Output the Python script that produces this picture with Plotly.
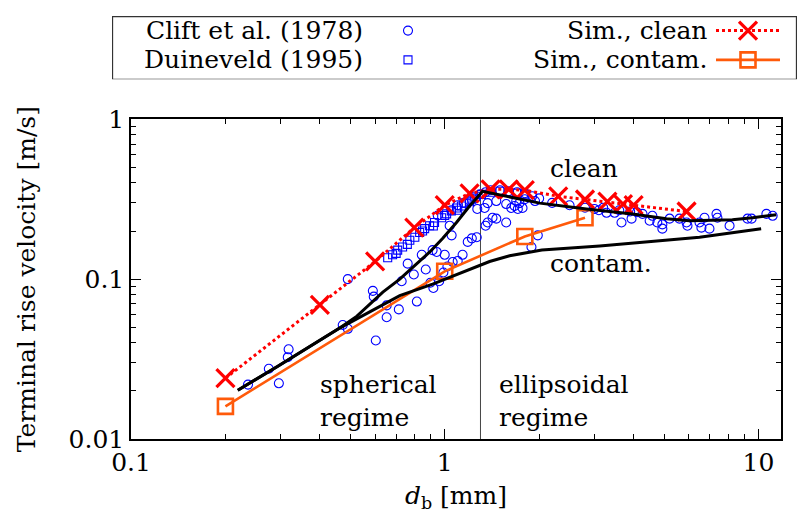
import math
import plotly.graph_objects as go

# ---------------- data ----------------
clift_d = [0.236, 0.275, 0.296, 0.318, 0.316, 0.473, 0.491, 0.491, 0.590, 0.594,
           0.603, 0.653, 0.653, 0.714, 0.729, 0.762, 0.797, 0.815, 0.845, 0.87,
           0.90, 0.915, 0.92, 0.943, 0.96, 0.99, 1.0, 1.02, 1.037, 1.052,
           1.06, 1.1, 1.14, 1.184, 1.22, 1.265, 1.27, 1.34, 1.35, 1.37,
           1.37, 1.42, 1.46, 1.46, 1.57, 1.57, 1.63, 1.67, 1.69, 1.71,
           1.73, 1.77, 1.80, 1.89, 1.94, 1.98, 0.95, 1.05, 1.1, 1.15,
           1.2, 1.25, 1.3, 1.35, 1.4, 1.5, 1.6, 1.7, 1.8, 1.9,
           2.0, 2.2, 2.5, 2.8, 3.0, 3.1, 3.2, 3.6, 3.9, 4.1,
           3.28, 3.48, 3.66, 3.94, 4.27, 4.50, 4.59, 4.76, 4.94, 4.94,
           5.21, 5.60, 5.90, 5.94, 6.49, 6.58, 6.73, 6.98, 7.35, 7.40,
           8.09, 9.23, 9.51, 10.6, 11.1]
clift_u = [0.0219, 0.0275, 0.0223, 0.0364, 0.0325, 0.0517, 0.0489, 0.100, 0.0845, 0.0777,
           0.0413, 0.0685, 0.0578, 0.0647, 0.097, 0.125, 0.107, 0.0724, 0.142, 0.115,
           0.095, 0.152, 0.088, 0.148, 0.097, 0.11, 0.142, 0.12, 0.216, 0.188,
           0.128, 0.13, 0.142, 0.171, 0.180, 0.183, 0.275, 0.279, 0.216, 0.226,
           0.299, 0.242, 0.239, 0.308, 0.226, 0.295, 0.279, 0.287, 0.308, 0.275,
           0.299, 0.279, 0.316, 0.159, 0.308, 0.188, 0.25, 0.27, 0.29, 0.30,
           0.31, 0.32, 0.34, 0.35, 0.36, 0.36, 0.355, 0.35, 0.345, 0.33,
           0.32, 0.30, 0.29, 0.28, 0.275, 0.27, 0.28, 0.27, 0.265, 0.262,
           0.260, 0.260, 0.226, 0.239, 0.256, 0.232, 0.249, 0.226, 0.220, 0.207,
           0.239, 0.239, 0.226, 0.216, 0.226, 0.210, 0.242, 0.207, 0.256, 0.242,
           0.216, 0.239, 0.239, 0.256, 0.249]

duin_d = [0.658, 0.682, 0.708, 0.734, 0.774, 0.803, 0.832, 0.863, 0.895, 0.928,
          0.978, 1.014, 1.05, 1.09, 1.13, 1.17, 1.22, 1.26, 1.31,
          0.70, 0.76, 0.85, 0.92, 1.0, 1.1, 1.2, 1.4, 1.5, 1.6, 1.7, 1.8]
duin_u = [0.136, 0.142, 0.152, 0.159, 0.175, 0.183, 0.196, 0.207, 0.216, 0.226,
          0.242, 0.256, 0.267, 0.279, 0.287, 0.299, 0.316, 0.330, 0.339,
          0.145, 0.165, 0.20, 0.215, 0.25, 0.27, 0.305, 0.35, 0.355, 0.35, 0.345, 0.34]

sim_clean_d = [0.2, 0.4, 0.6, 0.8, 1.0, 1.2, 1.4, 1.6, 1.8, 2.3, 2.8, 3.3, 3.7, 4.0, 5.9]
sim_clean_u = [0.024, 0.069, 0.129, 0.21, 0.29, 0.344, 0.365, 0.365, 0.36, 0.33,
               0.315, 0.305, 0.295, 0.29, 0.265]

sim_contam_d = [0.2, 1.0, 1.8, 2.8]
sim_contam_u = [0.016, 0.112, 0.185, 0.242]

corr_clean_d = [0.219, 0.292, 0.464, 0.525, 0.635, 0.719, 0.815, 0.896, 0.986, 1.09,
                1.2, 1.32, 2.01, 2.83, 3.97, 5.09, 6.03, 8.26, 9.57, 11.4]
corr_clean_u = [0.0202, 0.0283, 0.0496, 0.0587, 0.0830, 0.100, 0.125, 0.148, 0.18, 0.226,
                0.287, 0.354, 0.299, 0.275, 0.256, 0.239, 0.232, 0.235, 0.242, 0.253]

corr_contam_d = [0.219, 0.292, 0.464, 0.719, 0.915, 1.14, 1.39, 1.61, 2.04, 3.12, 6.49, 10.2]
corr_contam_u = [0.0202, 0.0283, 0.0496, 0.0788, 0.093, 0.110, 0.129, 0.14, 0.152, 0.161,
                 0.183, 0.207]

regime_boundary = 1.3

x_ticks = [0.1, 1, 10]
x_ticklabels = ["0.1", "1", "10"]
y_ticks = [0.01, 0.1, 1]
y_ticklabels = ["0.01", "0.1", "1"]

legend_labels = ["Clift et al. (1978)", "Duineveld (1995)", "Sim., clean", "Sim., contam."]

# ---------------- styles ----------------
FONT = "DejaVu Serif, Liberation Serif, serif"
FS = 25
BLUE = "#0000ff"
RED = "#ff0000"
ORANGE = "#ff5a0a"

fig = go.Figure()

fig.add_trace(go.Scatter(x=[regime_boundary, regime_boundary], y=[0.01, 1], mode="lines",
                         line=dict(color="#444444", width=1), hoverinfo="skip"))
fig.add_trace(go.Scatter(x=clift_d, y=clift_u, mode="markers",
                         marker=dict(symbol="circle-open", size=9, color=BLUE,
                                     line=dict(width=1.1, color=BLUE))))
fig.add_trace(go.Scatter(x=duin_d, y=duin_u, mode="markers",
                         marker=dict(symbol="square-open", size=8, color=BLUE,
                                     line=dict(width=1.1, color=BLUE))))
fig.add_trace(go.Scatter(x=sim_clean_d, y=sim_clean_u, mode="lines+markers",
                         line=dict(color=RED, width=3, dash="dot"),
                         marker=dict(symbol="x-thin", size=18, color=RED,
                                     line=dict(width=3.2, color=RED))))
fig.add_trace(go.Scatter(x=sim_contam_d, y=sim_contam_u, mode="lines+markers",
                         line=dict(color=ORANGE, width=2.6),
                         marker=dict(symbol="square-open", size=15, color=ORANGE,
                                     line=dict(width=2.6, color=ORANGE))))
fig.add_trace(go.Scatter(x=corr_clean_d, y=corr_clean_u, mode="lines",
                         line=dict(color="black", width=3)))
fig.add_trace(go.Scatter(x=corr_contam_d, y=corr_contam_u, mode="lines",
                         line=dict(color="black", width=3)))

# ---------------- custom legend (on a hidden overlay axis, pixel-like units) ----------------
LX, LY = "x2", "y2"
row_y = [20, 50]
fig.add_trace(go.Scatter(x=[408], y=[row_y[0]], xaxis=LX, yaxis=LY, mode="markers",
                         marker=dict(symbol="circle-open", size=9, color=BLUE,
                                     line=dict(width=1.1, color=BLUE))))
fig.add_trace(go.Scatter(x=[408], y=[row_y[1]], xaxis=LX, yaxis=LY, mode="markers",
                         marker=dict(symbol="square-open", size=8, color=BLUE,
                                     line=dict(width=1.1, color=BLUE))))
fig.add_trace(go.Scatter(x=[716, 780], y=[row_y[0]] * 2, xaxis=LX, yaxis=LY, mode="lines",
                         line=dict(color=RED, width=3, dash="dot")))
fig.add_trace(go.Scatter(x=[748], y=[row_y[0]], xaxis=LX, yaxis=LY, mode="markers",
                         marker=dict(symbol="x-thin", size=18, color=RED,
                                     line=dict(width=3.2, color=RED))))
fig.add_trace(go.Scatter(x=[716, 780], y=[row_y[1]] * 2, xaxis=LX, yaxis=LY, mode="lines",
                         line=dict(color=ORANGE, width=2.6)))
fig.add_trace(go.Scatter(x=[748], y=[row_y[1]], xaxis=LX, yaxis=LY, mode="markers",
                         marker=dict(symbol="square-open", size=15, color=ORANGE,
                                     line=dict(width=2.6, color=ORANGE))))

annotations = []
for txt, xx, yy in [(legend_labels[0], 365, row_y[0]), (legend_labels[1], 365, row_y[1]),
                    (legend_labels[2], 709, row_y[0]), (legend_labels[3], 709, row_y[1])]:
    annotations.append(dict(text=txt, x=xx, y=yy, xref=LX, yref=LY, xanchor="right",
                            yanchor="middle", showarrow=False,
                            font=dict(family=FONT, size=FS, color="black")))

# in-plot labels (log axes -> log10 coordinates)
for txt, xv, yv in [("clean", 2.13, 0.49), ("contam.", 2.13, 0.126),
                    ("spherical<br>regime", 0.395, 0.0172),
                    ("ellipsoidal<br>regime", 1.47, 0.0172)]:
    annotations.append(dict(text=txt, x=math.log10(xv), y=math.log10(yv), xref="x", yref="y",
                            xanchor="left", yanchor="middle", align="left", showarrow=False,
                            font=dict(family=FONT, size=FS, color="black")))

shapes = [dict(type="rect", xref=LX, yref=LY, x0=112.5, x1=796.5, y0=5.5, y1=70,
               line=dict(color="#333333", width=1.3), fillcolor="rgba(0,0,0,0)")]

W, H = 799, 513
ML, MR, MT, MB = 112, 2, 5, 74
PW, PH = W - ML - MR, H - MT - MB
plot_left, plot_right, plot_top = 131, 781, 111

axis_common = dict(showline=True, linecolor="black", linewidth=1.5, mirror="allticks",
                   ticks="inside", ticklen=10, tickwidth=1.2, tickcolor="black",
                   showgrid=False, zeroline=False,
                   tickfont=dict(family=FONT, size=FS, color="black"))

fig.update_layout(
    width=W, height=H,
    margin=dict(l=ML, r=MR, t=MT, b=MB),
    paper_bgcolor="white", plot_bgcolor="white",
    showlegend=False,
    font=dict(family=FONT, size=FS, color="black"),
    xaxis=dict(type="log", range=[-1, math.log10(11.8)],
               domain=[(plot_left - ML) / PW, (plot_right - ML) / PW],
               tickmode="array", tickvals=x_ticks, ticktext=x_ticklabels,
               minor=dict(ticks="inside", ticklen=5, tickcolor="black", tickwidth=1,
                          tickmode="array",
                          tickvals=[0.2, 0.3, 0.4, 0.5, 0.6, 0.7, 0.8, 0.9,
                                    2, 3, 4, 5, 6, 7, 8, 9], showgrid=False),
               title=dict(text="<i>d</i><sub>b</sub> [mm]", standoff=12,
                          font=dict(family=FONT, size=FS)),
               **axis_common),
    yaxis=dict(type="log", range=[-2, 0],
               domain=[0, (H - MB - plot_top) / PH],
               tickmode="array", tickvals=y_ticks, ticktext=y_ticklabels,
               minor=dict(ticks="inside", ticklen=5, tickcolor="black", tickwidth=1,
                          tickmode="array",
                          tickvals=[0.02, 0.03, 0.04, 0.05, 0.06, 0.07, 0.08, 0.09,
                                    0.2, 0.3, 0.4, 0.5, 0.6, 0.7, 0.8, 0.9], showgrid=False),
               title=dict(text="Terminal rise velocity [m/s]", standoff=26,
                          font=dict(family=FONT, size=FS)),
               **axis_common),
    xaxis2=dict(domain=[0, 1], range=[ML, W - MR], anchor="y2", visible=False),
    yaxis2=dict(domain=[(H - MB - 70) / PH, 1], range=[70, MT], anchor="x2", visible=False),
    annotations=annotations,
    shapes=shapes,
)

fig.write_html("out.html")
